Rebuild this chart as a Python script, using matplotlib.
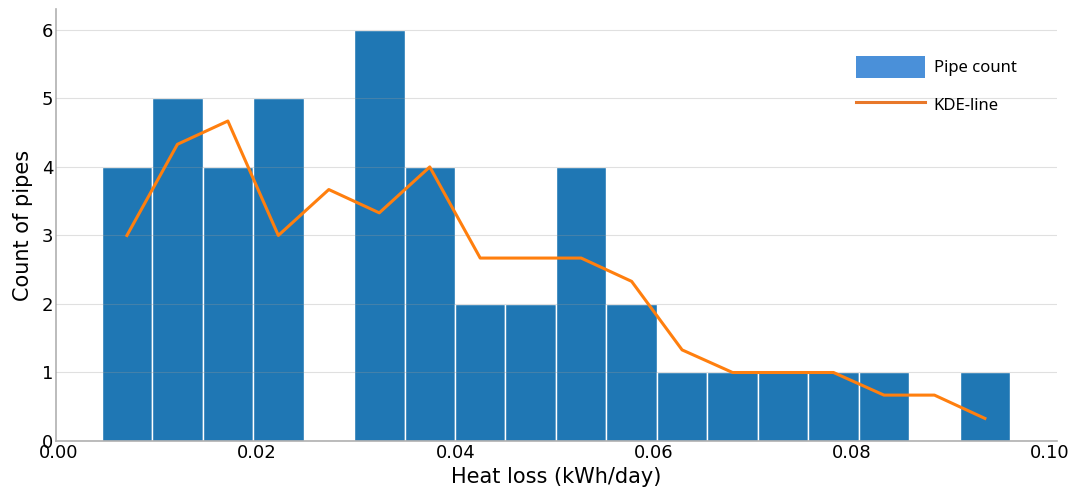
import numpy as np
import matplotlib
matplotlib.use('Agg')
import matplotlib.pyplot as plt
from matplotlib.patches import Patch
from matplotlib.lines import Line2D

# --- dados ---
bin_left = 0.00431
bin_right = 0.09598
pipe_counts = [4, 5, 4, 5, 0, 6, 4, 2, 2, 4, 2, 1, 1, 1, 1, 1, 0, 1]
kde_line = [3.0, 4.33, 4.67, 3.0, 3.67, 3.33, 4.0, 2.67, 2.67, 2.67,
            2.33, 1.33, 1.0, 1.0, 1.0, 0.67, 0.67, 0.33]

edges = np.linspace(bin_left, bin_right, len(pipe_counts) + 1)
centers = (edges[:-1] + edges[1:]) / 2
width = edges[1] - edges[0]

fig, ax = plt.subplots(figsize=(10.73, 4.91), dpi=100)
fig.subplots_adjust(left=0.0522, right=0.985, top=0.981, bottom=0.1018)

ax.bar(edges[:-1], pipe_counts, width=width, align='edge',
       color='#1f77b4', edgecolor='white', linewidth=1, zorder=2)
ax.plot(centers, kde_line, color='#ff7f0e', linewidth=2.2, zorder=3)

ax.set_xlim(-0.0003, 0.1007)
ax.set_ylim(0, 6.3)
ax.set_xticks([0.00, 0.02, 0.04, 0.06, 0.08, 0.10])
ax.set_xticklabels(['0.00', '0.02', '0.04', '0.06', '0.08', '0.10'])
ax.set_yticks(range(0, 7))
ax.tick_params(axis='both', length=0, labelsize=13, pad=2)

# grade horizontal suave, visível também por cima das barras
ax.yaxis.grid(True, color='#999999', alpha=0.3, linewidth=0.8, zorder=4)
ax.set_axisbelow(False)
for sp in ['top', 'right']:
    ax.spines[sp].set_visible(False)
for sp in ['left', 'bottom']:
    ax.spines[sp].set_color('#b0b0b0')
    ax.spines[sp].set_linewidth(1.2)

ax.set_xlabel('Heat loss (kWh/day)', fontsize=15, labelpad=4)
ax.set_ylabel('Count of pipes', fontsize=15, labelpad=6)

handles = [Patch(facecolor='#4a90d9', edgecolor='none'),
           Line2D([0], [0], color='#e8782a', linewidth=2.2)]
ax.legend(handles, ['Pipe count', 'KDE-line'], loc='upper left',
          bbox_to_anchor=(0.799, 0.892), frameon=False,
          prop={'family': 'Noto Sans', 'size': 12},
          borderpad=0, borderaxespad=0,
          handlelength=4.14, handleheight=1.65, labelspacing=0.93,
          handletextpad=0.54)

plt.savefig('out.png', dpi=100)
